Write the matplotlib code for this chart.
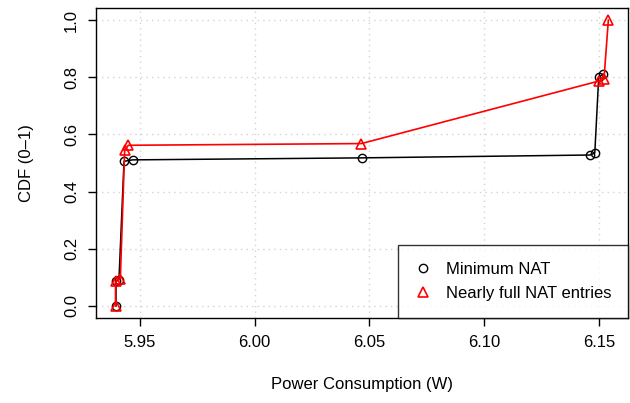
import matplotlib

matplotlib.use("Agg")
import matplotlib.pyplot as plt

# CDF points
min_nat_x = [5.9397, 5.9397, 5.9410, 5.9432, 5.9469, 6.0467, 6.1461, 6.1481, 6.1498, 6.1517]
min_nat_y = [0.0, 0.086, 0.092, 0.506, 0.511, 0.518, 0.528, 0.535, 0.800, 0.811]
full_nat_x = [5.9395, 5.9395, 5.9416, 5.9435, 5.9451, 6.0465, 6.1500, 6.1521, 6.1540]
full_nat_y = [0.0, 0.086, 0.096, 0.546, 0.562, 0.568, 0.787, 0.794, 1.0]

x_ticks = [5.95, 6.00, 6.05, 6.10, 6.15]
y_ticks = [0.0, 0.2, 0.4, 0.6, 0.8, 1.0]

plt.rcParams["font.family"] = ["Liberation Sans", "DejaVu Sans"]
FS = 12

fig = plt.figure(figsize=(6.3, 4.03), dpi=100)
ax = fig.add_axes([0.152, 0.211, 0.845, 0.769])

ax.plot(min_nat_x, min_nat_y, color="black", lw=1.1, marker="o", ms=6,
        mfc="none", mew=1, label="Minimum NAT")
ax.plot(full_nat_x, full_nat_y, color="red", lw=1.2, marker="^", ms=7,
        mfc="none", mew=1.2, label="Nearly full NAT entries")

ax.set_xlim(5.9309, 6.1626)
ax.set_ylim(-0.042, 1.042)
ax.set_xticks(x_ticks)
ax.set_xticklabels([f"{v:.2f}" for v in x_ticks])
ax.set_yticks(y_ticks)
ax.set_yticklabels([f"{v:.1f}" for v in y_ticks], rotation=90, va="center")
ax.tick_params(direction="out", length=6, width=1, labelsize=FS, pad=6)
ax.grid(True, color="#d3d3d3", linestyle=(0, (1, 3)), lw=1)
for s in ax.spines.values():
    s.set_linewidth(1)

ax.set_xlabel("Power Consumption (W)", fontsize=FS, labelpad=20)
ax.set_ylabel("CDF (0\u20131)", fontsize=FS, labelpad=22)

leg = ax.legend(loc="lower right", fontsize=FS, frameon=True, fancybox=False,
                edgecolor="black", borderaxespad=0, borderpad=1.0,
                handlelength=1.0, handletextpad=0.9, labelspacing=0.55)
for h in leg.legend_handles:
    h.set_linestyle("none")
leg.get_frame().set_linewidth(1)

fig.savefig("out.png", dpi=100)
